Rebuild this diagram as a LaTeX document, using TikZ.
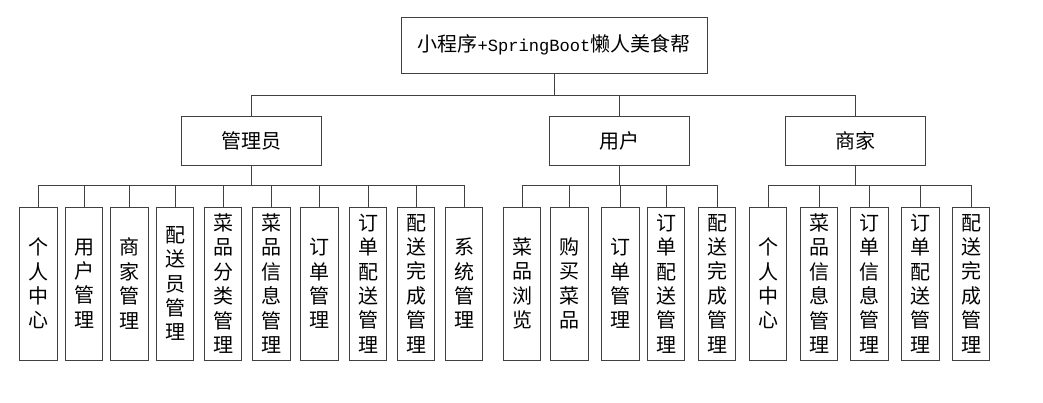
\documentclass[tikz,border=0pt]{standalone}
\usepackage{fontspec}
\newfontfamily\cjk{Noto Sans CJK SC}
\newfontfamily\latmono{Liberation Mono}
\begin{document}
\begin{tikzpicture}[x=1pt,y=-1pt,
  every node/.style={inner sep=0pt,outer sep=0pt},
  box/.style={draw=black!75,line width=1pt,fill=white,font=\cjk\fontsize{20}{24.4}\selectfont},
  rootbox/.style={box,minimum width=306pt,minimum height=56pt},
  midbox/.style={box,minimum width=140pt,minimum height=49pt},
  leaf/.style={box,minimum width=37.5pt,minimum height=153pt,align=center,text width=37.5pt},
  conn/.style={draw=black!75,line width=1pt}]
\useasboundingbox (0,0) rectangle (1043,402);
\node[rootbox] (root) at (554,45) {小程序{\latmono\fontsize{17.1}{20}\selectfont +SpringBoot}懒人美食帮};
\node[midbox] (adm) at (251.5,140.5) {管理员};
\node[midbox] (usr) at (619,140.5) {用户};
\node[midbox] (mer) at (855,140.5) {商家};
% admin leaves
\node[leaf] (a1) at (38.5,283.5) {个\\人\\中\\心};
\node[leaf] (a2) at (84,283.5) {用\\户\\管\\理};
\node[leaf] (a3) at (129.5,283.5) {商\\家\\管\\理};
\node[leaf] (a4) at (175,283.5) {配\\送\\员\\管\\理};
\node[leaf] (a5) at (223,283.5) {菜\\品\\分\\类\\管\\理};
\node[leaf] (a6) at (271.5,283.5) {菜\\品\\信\\息\\管\\理};
\node[leaf] (a7) at (319.5,283.5) {订\\单\\管\\理};
\node[leaf] (a8) at (368,283.5) {订\\单\\配\\送\\管\\理};
\node[leaf] (a9) at (416,283.5) {配\\送\\完\\成\\管\\理};
\node[leaf] (a10) at (464,283.5) {系\\统\\管\\理};
% user leaves
\node[leaf] (u1) at (522,283.5) {菜\\品\\浏\\览};
\node[leaf] (u2) at (569.5,283.5) {购\\买\\菜\\品};
\node[leaf] (u3) at (620.5,283.5) {订\\单\\管\\理};
\node[leaf] (u4) at (666,283.5) {订\\单\\配\\送\\管\\理};
\node[leaf] (u5) at (717,283.5) {配\\送\\完\\成\\管\\理};
% merchant leaves
\node[leaf] (m1) at (768,283.5) {个\\人\\中\\心};
\node[leaf] (m2) at (819,283.5) {菜\\品\\信\\息\\管\\理};
\node[leaf] (m3) at (869.5,283.5) {订\\单\\信\\息\\管\\理};
\node[leaf] (m4) at (920.5,283.5) {订\\单\\配\\送\\管\\理};
\node[leaf] (m5) at (971,283.5) {配\\送\\完\\成\\管\\理};
% connectors
\foreach \c in {adm,usr,mer}
  \draw[conn] (root.south) -- ++(0,22) -| (\c.north);
\foreach \c in {a1,a2,a3,a4,a5,a6,a7,a8,a9,a10}
  \draw[conn] (adm.south) -- ++(0,20.5) -| (\c.north);
\foreach \c in {u1,u2,u3,u4,u5}
  \draw[conn] (usr.south) -- ++(0,20.5) -| (\c.north);
\foreach \c in {m1,m2,m3,m4,m5}
  \draw[conn] (mer.south) -- ++(0,20.5) -| (\c.north);
\end{tikzpicture}
\end{document}
